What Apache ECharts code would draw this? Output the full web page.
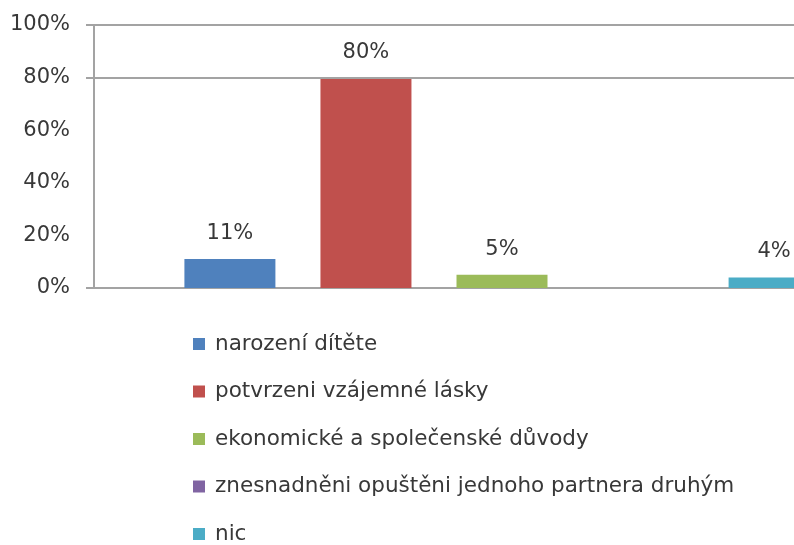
<!DOCTYPE html>
<html>
<head>
<meta charset="utf-8">
<script src="https://cdn.jsdelivr.net/npm/echarts@6/dist/echarts.min.js"></script>
<style>
  html, body { margin: 0; padding: 0; background: #fff; overflow: hidden; }
  /* the original plot area runs past the right edge of the picture */
  #chart { width: 910px; height: 545px; }
</style>
</head>
<body>
<div id="chart"></div>
<script>
// data
var seriesNames = ['narození dítěte', 'potvrzeni vzájemné lásky', 'ekonomické a společenské důvody', 'znesnadněni opuštěni jednoho partnera druhým', 'nic'];
var seriesValues = [11, 80, 5, 0, 4];
var seriesColors = ['#4F81BD', '#C0504D', '#9BBB59', '#8064A2', '#4BACC6'];
var categories = [''];
var yTicks = [0, 20, 40, 60, 80, 100];

var font = 'DejaVu Sans';
var lineColor = '#a3a3a3';

var series = seriesNames.map(function (name, i) {
  var s = {
    name: name,
    type: 'bar',
    barWidth: 91,
    barGap: '49.5%',
    itemStyle: { color: seriesColors[i] },
    label: {
      show: seriesValues[i] > 0,
      position: 'top',
      distance: 15,
      formatter: '{c}%',
      fontFamily: font,
      fontSize: 21,
      color: '#383838'
    },
    data: [seriesValues[i]]
  };
  if (i == 0) {
    // only the 80% and 100% gridlines are visible in the original
    s.markLine = {
      silent: true,
      symbol: 'none',
      label: { show: false },
      lineStyle: { type: 'solid', color: lineColor, width: 2 },
      data: [{ yAxis: 80 }, { yAxis: 100 }]
    };
  }
  return s;
});

var chart = echarts.init(document.getElementById('chart'));
chart.setOption({
  animation: false,
  backgroundColor: '#fff',
  grid: { left: 94, top: 25, bottom: 257, right: 0, containLabel: false },
  legend: {
    orient: 'vertical',
    left: 193,
    top: 333,
    height: 260,
    padding: 0,
    itemWidth: 12,
    itemHeight: 12,
    itemGap: 25.5,
    icon: 'rect',
    textStyle: { fontFamily: font, fontSize: 21.5, color: '#383838', padding: [0, 0, 0, 5] },
    data: seriesNames
  },
  xAxis: {
    type: 'category',
    data: categories,
    axisLine: { lineStyle: { color: lineColor, width: 2 } },
    axisTick: { show: false },
    axisLabel: { show: false }
  },
  yAxis: {
    type: 'value',
    min: yTicks[0],
    max: yTicks[yTicks.length - 1],
    interval: 20,
    axisLine: { show: true, lineStyle: { color: lineColor, width: 2 } },
    axisTick: { show: true, length: 8, customValues: [0, 80, 100], lineStyle: { color: lineColor, width: 2 } },
    splitLine: { show: false },
    axisLabel: {
      formatter: '{value}%',
      margin: 24,
      fontFamily: font,
      fontSize: 21,
      color: '#383838'
    }
  },
  series: series
});
</script>
</body>
</html>
